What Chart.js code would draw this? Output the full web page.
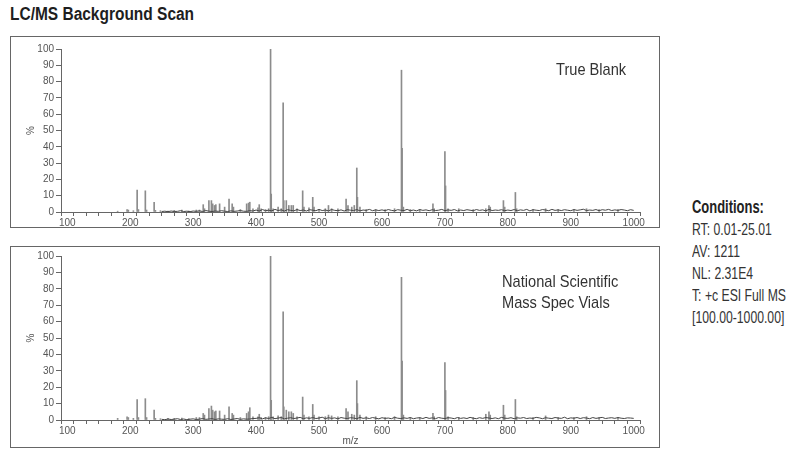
<!DOCTYPE html>
<html>
<head>
<meta charset="utf-8">
<script src="https://cdn.jsdelivr.net/npm/chart.js"></script>
<style>
  body { margin: 0; background: #fff; width: 800px; height: 461px; overflow: hidden;
         font-family: 'Liberation Sans', Arial, sans-serif; }
  .title { position: absolute; left: 10px; top: 4px; font-size: 18px; font-weight: bold; color: #1e1e1e;
           white-space: nowrap; transform: scaleX(0.86); transform-origin: 0 0; }
  .panel { position: absolute; left: 10px; width: 650px; box-sizing: border-box; border: 1px solid #666; }
  .panel canvas { display: block; }
  .note { position: absolute; font-size: 17px; color: #333; line-height: 21px; white-space: nowrap;
          transform: scaleX(0.86); transform-origin: 0 0; }
  .cond { position: absolute; left: 692px; top: 196px; font-size: 16.5px; color: #333; line-height: 22px;
          white-space: nowrap; transform: scaleX(0.74); transform-origin: 0 0; }
  .cond b { color: #222; font-size: 17.5px; }
</style>
</head>
<body>
<div class="title">LC/MS Background Scan</div>

<div class="panel" id="panel-top" style="top:36px;height:192px;"><canvas id="chart-blank"></canvas></div>
<div class="panel" id="panel-bottom" style="top:246px;height:202px;"><canvas id="chart-vials"></canvas></div>

<div class="note" style="left:556px;top:59px;">True Blank</div>
<div class="note" style="left:502px;top:271px;">National Scientific<br>Mass Spec Vials</div>

<div class="cond">
  <b>Conditions:</b><br>
  RT: 0.01-25.01<br>
  AV: 1211<br>
  NL: 2.31E4<br>
  T: +c ESI Full MS<br>
  [100.00-1000.00]
</div>

<script>
// m/z of the visible sticks (peaks), shared by both scans
const peakMz = [180, 195, 197, 205, 211, 213, 224, 226, 238, 240, 248, 260, 270, 282, 293,
  305, 310, 316, 318, 325, 329, 331, 334, 336, 342, 350, 357, 362, 364, 375, 385, 388, 390,
  395, 403, 405, 408, 415, 420, 423, 424, 427, 435, 440, 443, 444, 448, 452, 456, 459, 465,
  474, 476, 484, 490, 492, 500, 510, 515, 520, 530, 543, 546, 552, 556, 560, 561, 565, 575,
  590, 605, 620, 631, 632, 634, 645, 660, 681, 683, 700, 701, 705, 722, 745, 765, 770, 772,
  793, 795, 812, 814, 840, 860, 880, 905, 925, 945, 975];

// relative abundance (%) - true blank
const blankPeaks = [0.5, 1.5, 1.2, 0.8, 13.5, 1.5, 13, 1.2, 6, 1, 0.8, 0.6, 1, 1.2, 0.6,
  1.2, 1.2, 4.5, 2, 7, 7, 5, 4, 4.5, 5, 3, 8, 5, 3, 1.5, 5, 5.5, 6,
  2, 2.5, 4.5, 2, 1.5, 2, 100, 11, 2, 3, 2, 67, 7, 7, 4, 4, 4, 2,
  13, 3, 2.5, 9, 3, 1.5, 2, 4, 2, 2, 8, 4, 3, 4, 27, 9, 3, 1.5,
  1.5, 1.5, 2, 87, 39, 3, 1.5, 1.5, 5, 2, 37, 16, 2, 2, 1.5, 2, 4, 3,
  7, 3, 12, 2, 1.5, 2, 1.5, 1.5, 2, 1.5, 1.5];

// relative abundance (%) - mass spec vials
const vialPeaks = [1, 2, 1.5, 1, 12.5, 1.5, 13, 1.5, 6, 1, 0.8, 1, 1, 1.2, 0.8,
  1.5, 1.5, 4, 3, 7, 8.5, 6, 5, 5.5, 5.5, 3, 8, 4, 3, 1.5, 4, 5, 7.5,
  2, 2, 3.5, 1.5, 1.5, 2, 100, 12, 2, 2.5, 2, 66, 8, 6, 5, 5, 4, 2,
  14, 3, 2, 9.5, 3, 2, 2, 3, 2.5, 2, 7, 5, 3.5, 3, 24, 10, 3, 2,
  2, 1.5, 2, 87, 36, 3, 1.5, 1.5, 4, 2, 35, 18, 2, 1.5, 1.5, 3.5, 5, 3,
  9, 3, 12.5, 2, 1.5, 2.5, 1.5, 1.5, 2, 1.5, 1.5];

// baseline trace
const noiseMz = [250, 255, 260, 265, 270, 275, 280, 285, 290, 295, 300, 305, 310, 315, 320,
  325, 330, 335, 340, 345, 350, 355, 360, 365, 370, 375, 380, 385, 390, 395,
  400, 405, 410, 415, 420, 425, 430, 435, 440, 445, 450, 455, 460, 465, 470, 475, 480, 485,
  490, 495, 500, 505, 510, 515, 520, 525, 530, 535, 540, 545, 550, 555, 560, 565, 570, 575,
  580, 585, 590, 595, 600, 605, 610, 615, 620, 625, 630, 635, 640, 645, 650, 655, 660, 665,
  670, 675, 680, 685, 690, 695, 700, 705, 710, 715, 720, 725, 730, 735, 740, 745, 750, 755,
  760, 765, 770, 775, 780, 785, 790, 795, 800, 805, 810, 815, 820, 825, 830, 835, 840, 845,
  850, 855, 860, 865, 870, 875, 880, 885, 890, 895, 900, 905, 910, 915, 920, 925, 930, 935,
  940, 945, 950, 955, 960, 965, 970, 975, 980, 985, 990, 995, 1000];

const blankNoise = [0.3, 0.5, 0.2, 0.6, 0.3, 0.4, 0.8, 0.3, 0.5, 0.2, 0.6, 0.4, 0.7, 0.3, 0.9,
  0.5, 0.3, 0.6, 0.4, 0.8, 0.5, 0.3, 0.7, 0.4, 0.6, 0.9, 0.5, 0.4, 0.8, 0.6,
  1.2, 0.6, 1.5, 0.8, 1.1, 0.7, 1.6, 0.9, 1.3, 0.6, 1.4, 1.0, 0.7, 1.5, 0.9, 1.2, 0.6, 1.4,
  1.1, 0.8, 1.6, 0.9, 1.2, 0.7, 1.5, 1.0, 0.8, 1.3, 0.6, 1.4, 1.1, 0.9, 1.5, 0.7, 1.2, 1.0,
  1.6, 0.8, 1.3, 0.9, 1.3, 0.8, 1.5, 1.0, 0.7, 1.4, 1.1, 0.9, 1.6, 0.8, 1.2, 0.7, 1.5, 1.0,
  1.3, 0.8, 1.4, 0.9, 1.1, 1.6, 0.8, 1.3, 1.0, 1.5, 0.7, 1.2, 0.9, 1.4, 1.1, 0.8, 1.5, 1.0,
  1.3, 0.7, 1.6, 0.9, 1.2, 1.0, 1.4, 0.8, 1.2, 0.9, 1.5, 0.8, 1.3, 1.0, 1.6, 0.7, 1.4, 1.1,
  0.9, 1.5, 1.2, 0.8, 1.6, 1.0, 1.3, 0.9, 1.4, 1.1, 0.8, 1.5, 1.0, 1.3, 1.7, 0.9, 1.2, 1.0,
  1.5, 0.8, 1.4, 1.1, 1.6, 0.9, 1.3, 1.0, 1.5, 1.2, 0.8, 1.4, 1.0];

const vialNoise = [0.4, 0.2, 0.6, 0.3, 0.5, 0.8, 0.3, 0.6, 0.2, 0.5, 0.7, 0.3, 0.5, 0.9, 0.4,
  0.6, 0.8, 0.3, 0.7, 0.5, 0.4, 0.8, 0.3, 0.6, 0.9, 0.4, 0.7, 0.5, 0.6, 0.9,
  1.0, 1.4, 0.7, 1.3, 0.9, 1.6, 0.8, 1.2, 1.5, 0.7, 1.1, 1.4, 0.9, 1.2, 1.6, 0.8, 1.3, 1.0,
  1.5, 0.9, 1.2, 1.7, 0.8, 1.4, 1.0, 1.3, 0.7, 1.5, 1.1, 0.9, 1.4, 1.2, 0.8, 1.6, 1.0, 1.3,
  0.9, 1.5, 1.1, 0.7, 1.4, 1.0, 1.2, 0.8, 1.6, 1.1, 0.9, 1.3, 1.0, 1.5, 0.8, 1.2, 1.4, 0.9,
  1.6, 1.0, 1.3, 0.8, 1.5, 1.1, 0.9, 1.4, 1.2, 0.8, 1.5, 1.0, 1.3, 0.9, 1.6, 1.1, 0.8, 1.4,
  1.0, 1.5, 1.2, 0.9, 1.3, 0.8, 1.6, 1.1, 1.0, 1.4, 0.8, 1.3, 1.1, 1.5, 0.9, 1.2, 1.0, 1.6,
  1.3, 0.8, 1.4, 1.1, 0.9, 1.5, 1.2, 1.0, 1.7, 0.8, 1.3, 1.1, 1.5, 0.9, 1.4, 1.2, 0.8, 1.5,
  1.0, 1.3, 1.6, 0.9, 1.2, 1.4, 1.0, 1.5, 1.1, 0.9, 1.3, 1.2, 1.0];

const xMin = 100, xMax = 1000;
const yTicks = [0, 10, 20, 30, 40, 50, 60, 70, 80, 90, 100];

const tickFont = { family: "'Liberation Sans', Arial, sans-serif", size: 10 };
const axisColor = '#666';

function makeChart(canvasId, peaks, noise, opts) {
    const sticks = peakMz.map((mz, i) => ({ x: mz, y: peaks[i] }));
    const trace = noiseMz.map((mz, i) => ({ x: mz, y: noise[i] }));

    return new Chart(document.getElementById(canvasId), {
        type: 'bar',
        data: {
            datasets: [
                {
                    type: 'line',
                    data: trace,
                    borderColor: '#444',
                    borderWidth: 1,
                    pointRadius: 0,
                    tension: 0,
                    order: 0
                },
                {
                    type: 'bar',
                    data: sticks,
                    backgroundColor: '#8c8c8c',
                    barThickness: 1,
                    order: 1
                }
            ]
        },
        options: {
            responsive: true,
            maintainAspectRatio: false,
            animation: false,
            events: [],
            layout: { padding: { left: 14, right: 19, top: opts.padTop, bottom: 0 } },
            plugins: { legend: { display: false }, tooltip: { enabled: false } },
            scales: {
                x: {
                    type: 'linear',
                    min: xMin,
                    max: xMax,
                    border: { color: axisColor },
                    grid: { drawOnChartArea: false, tickLength: 4, color: axisColor },
                    ticks: {
                        stepSize: 20,
                        autoSkip: false,
                        maxRotation: 0,
                        padding: 1,
                        color: '#555',
                        font: tickFont,
                        callback: v => (v % 100 === 0 ? v : '')
                    },
                    title: {
                        display: opts.showXTitle,
                        text: 'm/z',
                        color: '#555',
                        font: tickFont,
                        padding: 0
                    },
                    afterFit: s => { s.height = opts.xHeight; }
                },
                y: {
                    min: 0,
                    max: 100,
                    border: { color: axisColor },
                    grid: { drawOnChartArea: false, tickLength: 5, color: axisColor },
                    afterBuildTicks: s => { s.ticks = yTicks.map(v => ({ value: v })); },
                    ticks: { padding: 2, color: '#555', font: tickFont },
                    title: { display: true, text: '%', color: '#555', font: tickFont, padding: 0 },
                    afterFit: s => { s.width = 36; }
                }
            }
        }
    });
}

makeChart('chart-blank', blankPeaks, blankNoise, { padTop: 12, xHeight: 15, showXTitle: false });
makeChart('chart-vials', vialPeaks, vialNoise, { padTop: 9, xHeight: 27, showXTitle: true });
</script>
</body>
</html>
